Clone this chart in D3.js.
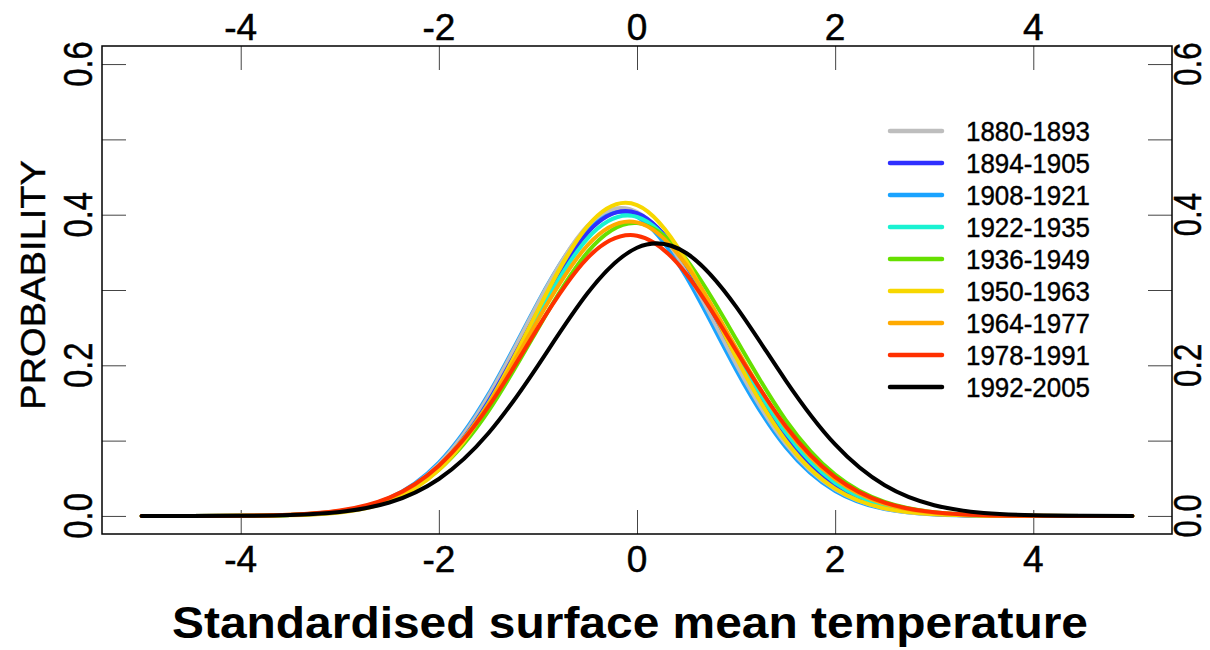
<!DOCTYPE html>
<html>
<head>
<meta charset="utf-8">
<script src="https://cdn.jsdelivr.net/npm/d3@7"></script>
<style>
  html, body { margin: 0; padding: 0; background: #fff; }
  svg { display: block; }
  text { font-family: "Liberation Sans", Arial, Helvetica, sans-serif; fill: #000; }
</style>
</head>
<body>
<svg id="chart" width="1210" height="650"></svg>
<script>
// Standardised temperature grid the densities are sampled on
const temps = [-5, -4.5, -4, -3.5, -3, -2.5, -2, -1.5, -1, -0.5, 0, 0.5, 1, 1.5, 2, 2.5, 3, 3.5, 4, 4.5, 5];

// Period labels and line colours
const periods = ["1880-1893", "1894-1905", "1908-1921", "1922-1935", "1936-1949",
                 "1950-1963", "1964-1977", "1978-1991", "1992-2005"];
const colors = ["#bebebe", "#2f2fff", "#1aa3ff", "#19f2d2", "#66e000",
                "#f7d700", "#ffaa00", "#ff3000", "#000000"];

// Density of standardised temperature for each period
const p1880 = [0, 0, 0.0002, 0.0012, 0.0059, 0.0229, 0.0689, 0.159, 0.282, 0.385, 0.4035, 0.325, 0.2015, 0.096, 0.0352, 0.0099, 0.0021, 0.0004, 0, 0, 0];
const p1894 = [0, 0, 0.0002, 0.0011, 0.0056, 0.0219, 0.0655, 0.1518, 0.2718, 0.3759, 0.402, 0.3322, 0.2122, 0.1047, 0.04, 0.0118, 0.0027, 0.0005, 0.0001, 0, 0];
const p1908 = [0, 0, 0.0002, 0.0012, 0.0062, 0.0238, 0.0708, 0.1615, 0.2836, 0.3828, 0.3972, 0.3168, 0.1942, 0.0915, 0.0332, 0.0092, 0.002, 0.0003, 0, 0, 0];
const p1922 = [0, 0, 0.0002, 0.0012, 0.0059, 0.0224, 0.0656, 0.1497, 0.2661, 0.3683, 0.397, 0.3333, 0.2179, 0.1109, 0.044, 0.0136, 0.0033, 0.0006, 0.0001, 0, 0];
const p1936 = [0, 0, 0.0002, 0.0013, 0.0058, 0.0213, 0.0613, 0.1391, 0.2487, 0.3501, 0.3888, 0.3403, 0.2348, 0.1276, 0.0548, 0.0185, 0.0049, 0.001, 0.0002, 0, 0];
const p1950 = [0, 0, 0.0001, 0.0008, 0.0046, 0.0193, 0.0611, 0.1481, 0.2733, 0.3847, 0.4128, 0.3377, 0.2106, 0.1002, 0.0363, 0.01, 0.0021, 0.0003, 0, 0, 0];
const p1964 = [0, 0, 0.0002, 0.0014, 0.0065, 0.0234, 0.0665, 0.1484, 0.2603, 0.3592, 0.3898, 0.3326, 0.2232, 0.1178, 0.0489, 0.016, 0.0041, 0.0008, 0.0001, 0, 0];
const p1978 = [0, 0, 0.0003, 0.0016, 0.0071, 0.0243, 0.0667, 0.145, 0.2501, 0.3424, 0.3721, 0.321, 0.2197, 0.1194, 0.0515, 0.0176, 0.0048, 0.001, 0.0002, 0, 0];
const p1992 = [0, 0, 0.0002, 0.0013, 0.0053, 0.0178, 0.049, 0.1097, 0.1997, 0.2956, 0.3561, 0.3488, 0.2779, 0.1801, 0.0949, 0.0407, 0.0142, 0.004, 0.0009, 0.0002, 0];

const seriesValues = [p1880, p1894, p1908, p1922, p1936, p1950, p1964, p1978, p1992];
// Painting order of the curves (1908-1921 sits underneath)
const drawOrder = [2, 0, 1, 3, 4, 5, 6, 7, 8];

// Axis ticks and labels
const xTicks = [-4, -2, 0, 2, 4];
const yTicks = [0, 0.1, 0.2, 0.3, 0.4, 0.5, 0.6];
const yLabelTicks = [0, 0.2, 0.4, 0.6];
const xTitle = "Standardised surface mean temperature";
const yTitle = "PROBABILITY";

const svg = d3.select("#chart");
const box = { left: 102, right: 1172, top: 46, bottom: 534 };

const x = d3.scaleLinear().domain([-5.4, 5.4]).range([box.left, box.right]);
const y = d3.scaleLinear().domain([-0.024, 0.624]).range([box.bottom, box.top]);

svg.append("rect").attr("width", 1210).attr("height", 650).attr("fill", "#fff");

// Inward ticks on all four sides
const tickLen = 24;
const tickStyle = g => g.selectAll("line").attr("stroke", "#444").attr("stroke-width", 1);

svg.append("g").attr("transform", `translate(0,${box.bottom})`)
  .call(d3.axisBottom(x).tickValues(xTicks).tickSizeInner(-tickLen).tickSizeOuter(0).tickFormat(""))
  .call(g => g.select(".domain").remove()).call(tickStyle);
svg.append("g").attr("transform", `translate(0,${box.top})`)
  .call(d3.axisTop(x).tickValues(xTicks).tickSizeInner(-tickLen).tickSizeOuter(0).tickFormat(""))
  .call(g => g.select(".domain").remove()).call(tickStyle);
svg.append("g").attr("transform", `translate(${box.left},0)`)
  .call(d3.axisLeft(y).tickValues(yTicks).tickSizeInner(-tickLen).tickSizeOuter(0).tickFormat(""))
  .call(g => g.select(".domain").remove()).call(tickStyle);
svg.append("g").attr("transform", `translate(${box.right},0)`)
  .call(d3.axisRight(y).tickValues(yTicks).tickSizeInner(-tickLen).tickSizeOuter(0).tickFormat(""))
  .call(g => g.select(".domain").remove()).call(tickStyle);

// Plot frame
svg.append("rect")
  .attr("x", box.left).attr("y", box.top)
  .attr("width", box.right - box.left).attr("height", box.bottom - box.top)
  .attr("fill", "none").attr("stroke", "#000").attr("stroke-width", 1.5);

// X tick labels, bottom and top (plain hyphen for negatives)
const xFmt = d => String(d);
[{ yb: 572 }, { yb: 40 }].forEach(pos => {
  svg.append("g").selectAll("text").data(xTicks).join("text")
    .attr("transform", d => `translate(${x(d)},${pos.yb})`)
    .attr("text-anchor", "middle")
    .attr("font-size", 37)
    .attr("stroke", "#000").attr("stroke-width", 0.5)
    .text(d => xFmt(d));
});

// Y tick labels, left and right, rotated
const yFmt = d3.format(".1f");
[{ xb: 92, fs: 40 }, { xb: 1201, fs: 38 }].forEach(pos => {
  svg.append("g").selectAll("text").data(yLabelTicks).join("text")
    .attr("transform", d => `translate(${pos.xb},${y(d)}) rotate(-90) scale(0.82,1)`)
    .attr("text-anchor", "middle")
    .attr("font-size", pos.fs)
    .attr("stroke", "#000").attr("stroke-width", 0.5)
    .text(d => yFmt(d));
});

// Axis titles
svg.append("text")
  .attr("x", 630).attr("y", 638)
  .attr("text-anchor", "middle")
  .attr("font-size", 45).attr("font-weight", "bold")
  .attr("textLength", 916).attr("lengthAdjust", "spacingAndGlyphs")
  .text(xTitle);

svg.append("text")
  .attr("transform", `translate(45,${(box.top + box.bottom) / 2 - 5}) rotate(-90)`)
  .attr("text-anchor", "middle")
  .attr("font-size", 35)
  .attr("stroke", "#000").attr("stroke-width", 0.4)
  .attr("textLength", 250).attr("lengthAdjust", "spacingAndGlyphs")
  .text(yTitle);

// Density curves
const line = d3.line()
  .x((d, i) => x(temps[i]))
  .y(d => y(d))
  .curve(d3.curveNatural);

svg.append("g").selectAll("path").data(drawOrder).join("path")
  .attr("d", k => line(seriesValues[k]))
  .attr("fill", "none")
  .attr("stroke", k => colors[k])
  .attr("stroke-width", 4)
  .attr("stroke-linejoin", "round")
  .attr("stroke-linecap", "round");

// Legend
const legend = svg.append("g");
const rowY = i => 131 + i * 32;
legend.selectAll("line").data(periods).join("line")
  .attr("x1", 890).attr("x2", 942)
  .attr("y1", (d, i) => rowY(i)).attr("y2", (d, i) => rowY(i))
  .attr("stroke", (d, i) => colors[i])
  .attr("stroke-width", 4.5)
  .attr("stroke-linecap", "round");
legend.selectAll("text").data(periods).join("text")
  .attr("x", 966).attr("y", (d, i) => rowY(i) + 10)
  .attr("font-size", 27)
  .attr("stroke", "#000").attr("stroke-width", 0.4)
  .attr("textLength", 124).attr("lengthAdjust", "spacingAndGlyphs")
  .text(d => d);
</script>
</body>
</html>
